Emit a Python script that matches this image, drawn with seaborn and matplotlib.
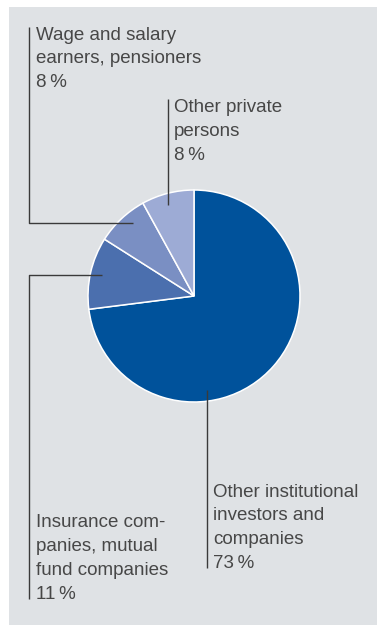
import matplotlib
matplotlib.use("Agg")
import matplotlib.pyplot as plt
from matplotlib.patches import Rectangle
import seaborn as sns

# Shareholder structure
categories = [
    "Other institutional investors and companies",
    "Insurance companies, mutual fund companies",
    "Wage and salary earners, pensioners",
    "Other private persons",
]
shares = [73, 11, 8, 8]
label_lines = [
    ["Other institutional", "investors and", "companies"],
    ["Insurance com-", "panies, mutual", "fund companies"],
    ["Wage and salary", "earners, pensioners"],
    ["Other private", "persons"],
]
slice_colors = ["#00529b", "#4b6fae", "#7a8fc3", "#9dabd5"]

sns.set_theme(style="white")
plt.rcParams["font.family"] = ["Liberation Sans", "DejaVu Sans"]

W, H = 377, 625
fig = plt.figure(figsize=(W / 100, H / 100), dpi=100, facecolor="white")
ax = fig.add_axes([0, 0, 1, 1])


def Y(y):
    """Convert a top-down pixel row to axis units."""
    return H - y


# grey panel
ax.add_patch(Rectangle((9, Y(625)), W - 9, 625 - 7, facecolor="#dfe2e5",
                       edgecolor="none", zorder=0))

center = (194, Y(296))
radius = 106
ax.pie(shares, colors=slice_colors, startangle=90, counterclock=False,
       center=center, radius=radius,
       wedgeprops=dict(edgecolor="white", linewidth=1.1), frame=True)

ax.set_xlim(0, W)
ax.set_ylim(0, H)
ax.set_aspect("auto")
ax.axis("off")

line_kw = dict(color="#3a3a3a", lw=1.0, solid_capstyle="butt", zorder=5)
text_kw = dict(fontsize=13.5, color="#474747", va="baseline", ha="left")
step = 23.8

# leader lines and labels: (polyline points in pixels, text x, first baseline)
leaders = [
    ([(206.7, 390), (206.7, 567.5)], 213, 496.7),
    ([(101.7, 275), (28.5, 275), (28.5, 598.5)], 36, 527.3),
    ([(133, 222.5), (28.5, 222.5), (28.5, 27)], 36, 39.5),
    ([(167.5, 205), (167.5, 98.5)], 174, 112),
]

for lines, share, (pts, tx, by) in zip(label_lines, shares, leaders):
    xs = [p[0] for p in pts]
    ys = [Y(p[1]) for p in pts]
    ax.plot(xs, ys, **line_kw)
    for i, ln in enumerate(lines + [f"{share}\u2009%"]):
        ax.text(tx, Y(by + i * step), ln, **text_kw)

fig.savefig("out.png", dpi=100, facecolor="white")
